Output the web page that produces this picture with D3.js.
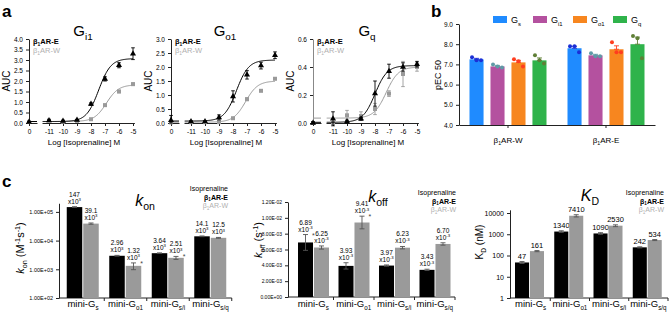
<!DOCTYPE html>
<html>
<head>
<meta charset="utf-8">
<script src="https://cdn.jsdelivr.net/npm/d3@7"></script>
<style>
  body { margin: 0; background: #fff; }
  svg { font-family: "Liberation Sans", Arial, sans-serif; }
</style>
</head>
<body>
<div id="fig"></div>
<script>
// ---------- data : panel a (dose response) ----------
const doseConc = [-11, -10, -9, -8, -7, -6, -5];

const gi1E = [0.12, 0.1, 0.14, 0.9, 2.1, 2.75, 3.3];
const gi1EErr = [0.03, 0.03, 0.03, 0.06, 0.1, 0.12, 0.28];
const gi1W = [0.12, 0.06, 0.1, 0.18, 0.85, 1.5, 1.85];
const gi1WErr = [0.02, 0.02, 0.02, 0.03, 0.05, 0.06, 0.06];

const go1E = [0.05, 0.05, 0.2, 0.95, 1.72, 2.05, 2.42];
const go1EErr = [0.02, 0.02, 0.09, 0.2, 0.15, 0.12, 0.12];
const go1W = [0.03, 0.03, 0.03, 0.17, 0.85, 1.15, 1.58];
const go1WErr = [0.02, 0.02, 0.02, 0.03, 0.05, 0.03, 0.03];

const gqE = [0.03, 0.01, 0.03, 0.21, 0.37, 0.40, 0.42];
const gqEErr = [0.05, 0.01, 0.01, 0.09, 0.05, 0.03, 0.02];
const gqW = [0.0, 0.055, 0.05, 0.1, 0.21, 0.35, 0.40];
const gqWErr = [0.01, 0.035, 0.03, 0.04, 0.02, 0.09, 0.03];

// value at zero agonist (Gi1, Go1, Gq)
const zeroE = [0.05, 0.1, 0.0];
const zeroEErr = [0.02, 0.17, 0.01];
const zeroW = [0.05, 0.02, 0.0];

// sigmoid fit parameters (Gi1, Go1, Gq)
const fitBottomE = [0.07, 0.07, 0.005];
const fitTopE = [3.07, 2.25, 0.41];
const fitLogEC50E = [-7.45, -7.75, -8.0];
const fitBottomW = [0.07, 0.03, 0.035];
const fitTopW = [1.82, 1.5, 0.4];
const fitLogEC50W = [-6.9, -7.1, -7.2];

const gi1Ticks = [0, 0.5, 1, 1.5, 2, 2.5, 3, 3.5, 4];
const go1Ticks = [0, 0.5, 1, 1.5, 2, 2.5, 3];
const gqTicks = [0, 0.2, 0.4, 0.6];

// ---------- data : panel b (pEC50) ----------
const gProteins = ["Gs", "Gi1", "Go1", "Gq"];
const gSubs = ["s", "i1", "o1", "q"];
const receptors = ["W", "E"];
const pec50W = [7.25, 6.9, 7.1, 7.2];
const pec50E = [7.8, 7.45, 7.75, 8.0];
const pec50WErr = [0.05, 0.05, 0.1, 0.12];
const pec50EErr = [0.1, 0.05, 0.17, 0.35];
const pec50WReps = [[7.35, 7.2, 7.2], [7.0, 6.9, 6.85], [7.25, 7.15, 6.9], [7.45, 7.2, 7.05]];
const pec50EReps = [[7.9, 7.9, 7.6], [7.55, 7.4, 7.4], [8.1, 7.6, 7.6], [8.4, 8.3, 7.3]];
const pecTicks = [4, 5, 6, 7, 8, 9];

// ---------- data : panel c (kinetics) ----------
const miniG = ["s", "o1", "s/i", "s/q"];
const konE = [147e3, 2.96e3, 3.64e3, 14.1e3];
const konW = [39.1e3, 1.32e3, 2.51e3, 12.5e3];
const konEErr = [5e3, 0.1e3, 0.1e3, 0.4e3];
const konWErr = [2e3, 0.35e3, 0.3e3, 0.4e3];
const konSigW = [false, true, true, false];
const konTicks = [1e2, 1e3, 1e4, 1e5];

const koffE = [6.89e-3, 3.93e-3, 3.97e-3, 3.43e-3];
const koffW = [6.25e-3, 9.41e-3, 6.23e-3, 6.70e-3];
const koffEErr = [1.0e-3, 0.4e-3, 0.08e-3, 0.08e-3];
const koffWErr = [0.2e-3, 0.8e-3, 0.15e-3, 0.15e-3];
const koffSigE = [true, false, false, false];
const koffSigW = [false, true, false, false];
const koffTicks = [0, 0.002, 0.004, 0.006, 0.008, 0.010, 0.012];

const kdE = [47, 1340, 1090, 242];
const kdW = [161, 7410, 2530, 534];
const kdEErr = [5, 120, 100, 15];
const kdWErr = [10, 900, 250, 30];
const kdTicks = [1, 10, 100, 1000, 10000];

// ---------- helpers ----------
const FONT = "Liberation Sans, Arial, sans-serif";
const GRAY = "#9a9a9a";
const GRAY_TXT = "#b0b0b0";

const svg = d3.select("#fig").append("svg")
    .attr("width", 669)
    .attr("height", 312);

// text with sub/superscript pieces; shifts done with dy so sizes stay small
function rich(g, x, y, parts, size, attrs = {}) {
    const t = g.append("text").attr("x", x).attr("y", y).attr("font-size", size);
    Object.entries(attrs).forEach(([k, v]) => t.attr(k, v));
    let cur = 0;
    parts.forEach(p => {
        const s = t.append("tspan").text(p[0]);
        let shift = 0, fs = size;
        if (p[1] === "sub") { shift = 0.28 * size; fs = 0.66 * size; }
        if (p[1] === "sup") { shift = -0.4 * size; fs = 0.66 * size; }
        s.attr("dy", shift - cur).attr("font-size", fs);
        cur = shift;
        if (p[1] === "it") s.attr("font-style", "italic");
    });
    return t;
}
const beta = s => [["β"], ["1", "sub"], ["AR-" + s]];

function styleAxis(sel, size) {
    sel.attr("font-size", size).attr("font-family", FONT);
    sel.selectAll("path, line").attr("stroke", "#222");
}

function errBar(g, x, y1, y2, color, cap = 2) {
    g.append("line").attr("x1", x).attr("x2", x).attr("y1", y1).attr("y2", y2)
        .attr("stroke", color).attr("stroke-width", 0.9);
    [y1, y2].forEach(yy => g.append("line").attr("x1", x - cap).attr("x2", x + cap)
        .attr("y1", yy).attr("y2", yy).attr("stroke", color).attr("stroke-width", 0.9));
}

// panel letters
[["a", 2, 17], ["b", 431, 17], ["c", 2, 187]].forEach(([t, x, y]) =>
    svg.append("text").attr("x", x).attr("y", y).attr("font-size", 17)
        .attr("font-weight", "bold").text(t));

// ---------- panel a ----------
const dosePanels = [
    {x0: 29, sub: "i1", ticks: gi1Ticks, E: gi1E, EErr: gi1EErr, W: gi1W, WErr: gi1WErr, axis: "#222"},
    {x0: 171, sub: "o1", ticks: go1Ticks, E: go1E, EErr: go1EErr, W: go1W, WErr: go1WErr, axis: "#222"},
    {x0: 313, sub: "q", ticks: gqTicks, E: gqE, EErr: gqEErr, W: gqW, WErr: gqWErr, axis: "#888"}
];

dosePanels.forEach((c, i) => {
    const g = svg.append("g");
    const y = d3.scaleLinear().domain([0, d3.max(c.ticks)]).range([123, 39]);
    const x = d3.scaleLinear().domain([-11.5, -4.9]).range([c.x0 + 13, c.x0 + 13 + 6.6 * 14]);
    const xz = d3.scaleLinear().domain([0, 0.6]).range([c.x0, c.x0 + 8]);

    g.append("g").attr("transform", `translate(${c.x0},0)`)
        .call(d3.axisLeft(y).tickValues(c.ticks).tickSize(3).tickSizeOuter(0).tickFormat(d3.format(".1f")))
        .call(s => styleAxis(s, 6.5))
        .call(s => s.select(".domain").attr("stroke", c.axis));
    g.append("g").attr("transform", "translate(0,123)")
        .call(d3.axisBottom(xz).tickValues([0]).tickSize(3).tickSizeOuter(0).tickFormat(d => String(d)))
        .call(s => styleAxis(s, 6.5));
    g.append("g").attr("transform", "translate(0,123)")
        .call(d3.axisBottom(x).tickValues(doseConc).tickSize(3).tickSizeOuter(0).tickFormat(d => String(d)))
        .call(s => styleAxis(s, 6.5));

    // titles
    rich(g, c.x0 + 54, 36, [["G"], [c.sub, "sub"]], 15, {"text-anchor": "middle"});
    g.append("text").attr("transform", `translate(${c.x0 - 19},81) rotate(-90)`)
        .attr("text-anchor", "middle").attr("font-size", 10).text("AUC");
    g.append("text").attr("x", c.x0 + 55).attr("y", 145).attr("text-anchor", "middle")
        .attr("font-size", 8).text("Log [Isoprenaline] M");
    rich(g, c.x0 + 4, 44, beta("E"), 7.5, {"font-weight": "bold"});
    rich(g, c.x0 + 4, 53, beta("W"), 7.5, {fill: GRAY_TXT});

    const series = [
        {v: c.W, e: c.WErr, z: zeroW[i], ze: 0.01, b: fitBottomW[i], t: fitTopW[i], ec: fitLogEC50W[i],
            color: GRAY, mark: d3.symbolSquare, size: 16},
        {v: c.E, e: c.EErr, z: zeroE[i], ze: zeroEErr[i], b: fitBottomE[i], t: fitTopE[i], ec: fitLogEC50E[i],
            color: "#000", mark: d3.symbolTriangle, size: 16}
    ];
    series.forEach(s => {
        const curveX = d3.range(-11.45, -4.99, 0.05);
        const fit = d => s.b + (s.t - s.b) / (1 + Math.pow(10, s.ec - d));
        g.append("path").datum(curveX)
            .attr("d", d3.line().x(d => x(d)).y(d => y(fit(d))))
            .attr("fill", "none").attr("stroke", s.color).attr("stroke-width", 1);
        g.append("line").attr("x1", xz(0)).attr("x2", xz(0.6))
            .attr("y1", y(s.b)).attr("y2", y(s.b)).attr("stroke", s.color).attr("stroke-width", 1);
        doseConc.forEach((d, j) => {
            errBar(g, x(d), y(s.v[j] - s.e[j]), y(s.v[j] + s.e[j]), s.color, 1.8);
        });
        errBar(g, xz(0), y(Math.max(0, s.z - s.ze)), y(s.z + s.ze), s.color, 1.8);
        g.selectAll(null).data(doseConc).join("path")
            .attr("transform", (d, j) => `translate(${x(d)},${y(s.v[j])})`)
            .attr("d", d3.symbol(s.mark).size(s.size))
            .attr("fill", s.color);
        g.append("path").attr("transform", `translate(${xz(0)},${y(s.z)})`)
            .attr("d", d3.symbol(s.mark).size(s.size)).attr("fill", s.color);
    });
});

// ---------- panel b ----------
const barColors = ["#1f8bff", "#b4519f", "#f7861f", "#2fb34b"];
const dotColors = ["#1b2fd6", "#5f9aa6", "#ff3d1f", "#5f7f36"];
{
    const g = svg.append("g");
    const y = d3.scaleLinear().domain([4, 9]).range([125, 24]);
    const x = d3.scaleBand().domain(receptors).range([459, 655]);
    const xi = d3.scaleBand().domain(gProteins).range([-38.5, 38.5]).paddingInner(0.33);

    g.append("g").attr("transform", "translate(459,0)")
        .call(d3.axisLeft(y).tickValues(pecTicks).tickSize(3).tickSizeOuter(0))
        .call(s => styleAxis(s, 6.5));
    g.append("g").attr("transform", "translate(0,125)")
        .call(d3.axisBottom(x).tickSize(3).tickSizeOuter(0).tickFormat(""))
        .call(s => styleAxis(s, 6.5));
    g.append("text").attr("transform", "translate(441,75) rotate(-90)")
        .attr("text-anchor", "middle").attr("font-size", 9).text("pEC 50");

    const vals = {W: pec50W, E: pec50E}, errs = {W: pec50WErr, E: pec50EErr},
        reps = {W: pec50WReps, E: pec50EReps};
    receptors.forEach(r => {
        const cx = x(r) + x.bandwidth() / 2;
        rich(g, cx, 143, beta(r), 8, {"text-anchor": "middle"});
        gProteins.forEach((p, k) => {
            const bx = cx + xi(p), bw = xi.bandwidth();
            g.append("rect").attr("x", bx).attr("y", y(vals[r][k]))
                .attr("width", bw).attr("height", y(4) - y(vals[r][k]))
                .attr("fill", barColors[k]);
            errBar(g, bx + bw / 2, y(vals[r][k]), y(vals[r][k] + errs[r][k]), dotColors[k], 2.5);
            reps[r][k].forEach((v, m) => {
                g.append("circle").attr("cx", bx + bw / 2 + (m - 1) * bw * 0.32)
                    .attr("cy", y(v)).attr("r", 2).attr("fill", dotColors[k]);
            });
        });
    });

    const lx = d3.scalePoint().domain(gProteins).range([493, 613]);
    gProteins.forEach((p, k) => {
        g.append("rect").attr("x", lx(p)).attr("y", 16).attr("width", 14).attr("height", 7)
            .attr("fill", barColors[k]);
        rich(g, lx(p) + 18, 23, [["G"], [gSubs[k], "sub"]], 9);
    });
}

// ---------- panel c ----------
const sup = e => [["x10"], [e, "sup"]];

function kinetics(cfg) {
    const g = svg.append("g");
    const x = d3.scaleBand().domain(miniG).range(cfg.xRange);
    const xi = d3.scaleBand().domain(["E", "W"]).range(cfg.inner).paddingInner(0.06);
    const y = cfg.y;
    const base = y.range()[0];

    g.append("g").attr("transform", `translate(${cfg.axisX},0)`)
        .call(d3.axisLeft(y).tickValues(cfg.ticks).tickSize(3).tickSizeOuter(0).tickFormat(cfg.fmt))
        .call(s => styleAxis(s, cfg.tickSize));
    // x axis line with ticks between groups
    g.append("line").attr("x1", cfg.axisX).attr("x2", cfg.xRange[1])
        .attr("y1", base).attr("y2", base).attr("stroke", "#222");
    miniG.forEach(m => {
        const bx = x(m) + x.bandwidth();
        g.append("line").attr("x1", bx).attr("x2", bx).attr("y1", base).attr("y2", base + 3)
            .attr("stroke", "#222");
        rich(g, x(m) + x.bandwidth() / 2, 307, [["mini-G"], [m, "sub"]], 9.5, {"text-anchor": "middle"});
    });

    [["E", cfg.E, cfg.EErr, "#000", cfg.sigE], ["W", cfg.W, cfg.WErr, GRAY, cfg.sigW]].forEach(([key, v, e, col, sig]) => {
        miniG.forEach((m, k) => {
            const bx = x(m) + xi(key), bw = xi.bandwidth();
            g.append("rect").attr("x", bx).attr("y", y(v[k])).attr("width", bw)
                .attr("height", base - y(v[k])).attr("fill", col);
            errBar(g, bx + bw / 2, y(v[k] - e[k]), y(v[k] + e[k]), "#555", 2.5);
            const top = y(v[k] + e[k]);
            cfg.label(g, bx + bw / 2, top, v[k]);
            if (sig && sig[k]) {
                g.append("text").attr("x", bx + bw - 1).attr("y", top + 3).attr("font-size", 7)
                    .attr("fill", "#444").text("*");
            }
        });
    });

    rich(g, cfg.titleX, cfg.titleY, cfg.title, 16, {"text-anchor": "middle"});
    g.append("text").attr("x", cfg.legX).attr("y", cfg.legY).attr("text-anchor", "end")
        .attr("font-size", 7).text("Isoprenaline");
    rich(g, cfg.legX, cfg.legY + 8.5, beta("E"), 7, {"text-anchor": "end", "font-weight": "bold"});
    rich(g, cfg.legX, cfg.legY + 17, beta("W"), 7, {"text-anchor": "end", fill: GRAY_TXT});
    rich(g, 0, 0, cfg.ylab, cfg.ylabSize, {"text-anchor": "middle",
        transform: `translate(${cfg.ylabX},${cfg.ylabY}) rotate(-90)`});
}

const sci = () => d => {
    if (d === 0) return "0.00E+00";
    const p = Math.floor(Math.log10(d) + 1e-9);
    const m = d / Math.pow(10, p);
    return m.toFixed(2) + "E" + (p < 0 ? "-" : "+") + String(Math.abs(p)).padStart(2, "0");
};
const f3 = d3.format(".3r");

kinetics({
    axisX: 59, xRange: [61.75, 231.75], inner: [5, 37],
    y: d3.scaleLog().domain([100, 2e5]).range([298, 298 - Math.log10(2000) * 28.7]),
    ticks: konTicks, fmt: sci(), tickSize: 5.5,
    E: konE, EErr: konEErr, W: konW, WErr: konWErr, sigW: konSigW,
    label: (g, cx, top, v) => {
        rich(g, cx, top - 10, [[f3(v / 1e3)]], 6.5, {"text-anchor": "middle"});
        rich(g, cx, top - 3, sup("3"), 6.5, {"text-anchor": "middle"});
    },
    title: [["k", "it"], ["on", "sub"]], titleX: 145, titleY: 206,
    legX: 228, legY: 191,
    ylab: [["k", "it"], ["on", "sub"], ["  (M"], ["-1", "sup"], ["s"], ["-1", "sup"], [")"]],
    ylabSize: 11, ylabX: 24, ylabY: 248
});

kinetics({
    axisX: 288, xRange: [293, 455], inner: [5, 36],
    y: d3.scaleLinear().domain([0, 0.012]).range([297, 202]),
    ticks: koffTicks, fmt: sci(), tickSize: 5,
    E: koffE, EErr: koffEErr, W: koffW, WErr: koffWErr, sigE: koffSigE, sigW: koffSigW,
    label: (g, cx, top, v) => {
        rich(g, cx, top - 10, [[f3(v * 1e3)]], 6.5, {"text-anchor": "middle"});
        rich(g, cx, top - 3, sup("-3"), 6.5, {"text-anchor": "middle"});
    },
    title: [["k", "it"], ["off", "sub"]], titleX: 378, titleY: 202,
    legX: 456, legY: 195,
    ylab: [["k", "it"], ["off", "sub"], ["  (s"], ["-1", "sup"], [")"]],
    ylabSize: 11, ylabX: 262, ylabY: 240
});

kinetics({
    axisX: 510, xRange: [511, 668], inner: [4, 33],
    y: d3.scaleLog().domain([1, Math.pow(10, 4.15)]).range([298, 298 - 4.15 * 21.25]),
    ticks: kdTicks, fmt: d3.format("d"), tickSize: 7,
    E: kdE, EErr: kdEErr, W: kdW, WErr: kdWErr,
    label: (g, cx, top, v) => {
        rich(g, cx, top - 3, [[String(v)]], 7.5, {"text-anchor": "middle"});
    },
    title: [["K", "it"], ["D", "sub"]], titleX: 590, titleY: 201,
    legX: 664, legY: 195,
    ylab: [["K"], ["D", "sub"], ["  (nM)"]],
    ylabSize: 10, ylabX: 483, ylabY: 242
});
</script>
</body>
</html>
